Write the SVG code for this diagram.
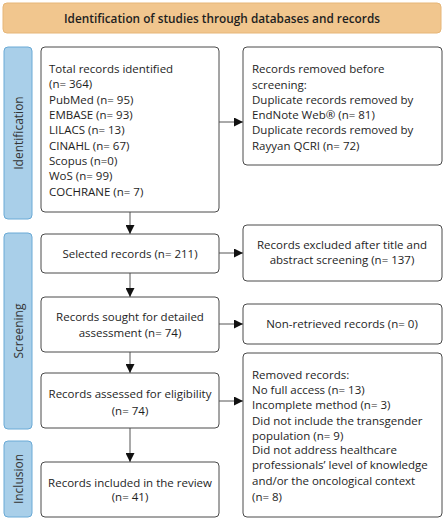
<svg xmlns="http://www.w3.org/2000/svg" width="445" height="520" viewBox="0 0 445 520">
<style>
.box{fill:#fff;stroke:#4a4a4a;stroke-width:1}
.band{fill:#a9cfe9;stroke:#6aaad6;stroke-width:1}
.t{font-family:"Open Sans","Liberation Sans",sans-serif;font-size:11.5px;fill:#1e1e1e}
.c{text-anchor:middle}
.bt{font-family:"Open Sans","Liberation Sans",sans-serif;font-size:12px;fill:#333;text-anchor:middle}
.ln{stroke:#555;stroke-width:1;fill:none}
</style>
<defs>
<marker id="ah" viewBox="0 0 10 10" refX="10" refY="5" markerWidth="9" markerHeight="9" markerUnits="userSpaceOnUse" orient="auto">
<path d="M0,0 L10,5 L0,10 z" fill="#111"/>
</marker>
</defs>
<rect width="445" height="520" fill="#fff"/>
<g id="header">
<rect x="3" y="3" width="438" height="30" rx="4" fill="#f1c68e" stroke="#e6b678"/>
<text x="222" y="22.5" class="t c" style="font-size:11.8px;font-weight:600">Identification of studies through databases and records</text>
</g>
<g id="band-identification">
<rect x="4" y="47" width="28" height="172" rx="4" class="band"/>
<text transform="translate(23,133) rotate(-90)" class="bt">Identification</text>
</g>
<g id="band-screening">
<rect x="4" y="233" width="28" height="196" rx="4" class="band"/>
<text transform="translate(23,331) rotate(-90)" class="bt">Screening</text>
</g>
<g id="band-inclusion">
<rect x="4" y="441" width="28" height="76" rx="4" class="band"/>
<text transform="translate(23,479) rotate(-90)" class="bt">Inclusion</text>
</g>
<g id="connectors">
<line x1="130" y1="212" x2="130" y2="234" class="ln" marker-end="url(#ah)"/>
<line x1="130" y1="273" x2="130" y2="297" class="ln" marker-end="url(#ah)"/>
<line x1="130" y1="352" x2="130" y2="373" class="ln" marker-end="url(#ah)"/>
<line x1="130" y1="428" x2="130" y2="462" class="ln" marker-end="url(#ah)"/>
<line x1="219" y1="122" x2="243" y2="122" class="ln" marker-end="url(#ah)"/>
<line x1="219" y1="253" x2="243" y2="253" class="ln" marker-end="url(#ah)"/>
<line x1="219" y1="324" x2="243" y2="324" class="ln" marker-end="url(#ah)"/>
<line x1="219" y1="401" x2="243" y2="401" class="ln" marker-end="url(#ah)"/>
</g>
<g id="total-records">
<rect x="41" y="47" width="178" height="165" rx="4" class="box"/>
<text class="t" x="49" y="73">Total records identified</text>
<text class="t" x="49" y="88">(n= 364)</text>
<text class="t" x="49" y="104">PubMed (n= 95)</text>
<text class="t" x="49" y="119">EMBASE (n= 93)</text>
<text class="t" x="49" y="134">LILACS (n= 13)</text>
<text class="t" x="49" y="150">CINAHL (n= 67)</text>
<text class="t" x="49" y="165">Scopus (n=0)</text>
<text class="t" x="49" y="180">WoS (n= 99)</text>
<text class="t" x="49" y="196">COCHRANE (n= 7)</text>
</g>
<g id="removed-before">
<rect x="243" y="47" width="199" height="118" rx="4" class="box"/>
<text class="t" x="252" y="73">Records removed before</text>
<text class="t" x="252" y="89">screening:</text>
<text class="t" x="252" y="104">Duplicate records removed by</text>
<text class="t" x="252" y="119">EndNote Web® (n= 81)</text>
<text class="t" x="252" y="134">Duplicate records removed by</text>
<text class="t" x="252" y="150">Rayyan QCRI (n= 72)</text>
</g>
<g id="selected">
<rect x="41" y="234" width="178" height="39" rx="4" class="box"/>
<text class="t c" x="130" y="258">Selected records (n= 211)</text>
</g>
<g id="excluded">
<rect x="243" y="225" width="199" height="56" rx="4" class="box"/>
<text class="t c" x="342" y="249">Records excluded after title and</text>
<text class="t c" x="342" y="264">abstract screening (n= 137)</text>
</g>
<g id="sought">
<rect x="41" y="297" width="178" height="55" rx="4" class="box"/>
<text class="t c" x="130" y="321">Records sought for detailed</text>
<text class="t c" x="130" y="337">assessment (n= 74)</text>
</g>
<g id="non-retrieved">
<rect x="243" y="304" width="199" height="40" rx="4" class="box"/>
<text class="t c" x="342" y="328">Non-retrieved records (n= 0)</text>
</g>
<g id="assessed">
<rect x="41" y="373" width="178" height="55" rx="4" class="box"/>
<text class="t c" x="130" y="398">Records assessed for eligibility</text>
<text class="t c" x="130" y="415">(n= 74)</text>
</g>
<g id="removed-records">
<rect x="243" y="353" width="199" height="164" rx="4" class="box"/>
<text class="t" x="252" y="379">Removed records:</text>
<text class="t" x="252" y="394">No full access (n= 13)</text>
<text class="t" x="252" y="409">Incomplete method (n= 3)</text>
<text class="t" x="252" y="425">Did not include the transgender</text>
<text class="t" x="252" y="440">population (n= 9)</text>
<text class="t" x="252" y="454">Did not address healthcare</text>
<text class="t" x="252" y="469">professionals’ level of knowledge</text>
<text class="t" x="252" y="485">and/or the oncological context</text>
<text class="t" x="252" y="501">(n= 8)</text>
</g>
<g id="included">
<rect x="41" y="462" width="178" height="55" rx="4" class="box"/>
<text class="t c" x="130" y="487">Records included in the review</text>
<text class="t c" x="130" y="501">(n= 41)</text>
</g>
</svg>
